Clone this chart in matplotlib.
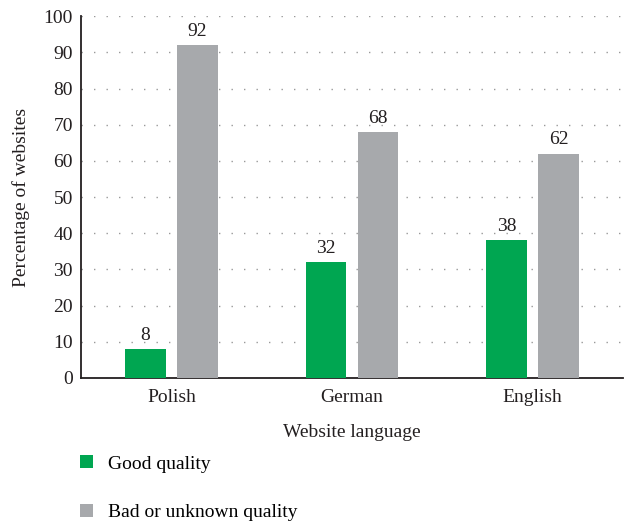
import numpy as np
import matplotlib.pyplot as plt

# data
languages = ["Polish", "German", "English"]
good = [8, 32, 38]
bad = [92, 68, 62]

green = "#00a651"
grey = "#a7a9ac"

plt.rcParams['font.family'] = ['Liberation Serif', 'DejaVu Serif']

fig = plt.figure(figsize=(6.24, 5.22), dpi=100)
ax = fig.add_axes([0.130, 0.276, 0.868, 0.693])

x = np.arange(len(languages))
w = 0.226
off = 0.144
b1 = ax.bar(x - off, good, w, color=green, label="Good quality", zorder=3)
b2 = ax.bar(x + off, bad, w, color=grey, label="Bad or unknown quality", zorder=3)

for bars, vals in ((b1, good), (b2, bad)):
    for r, v in zip(bars, vals):
        ax.text(r.get_x() + r.get_width() / 2, v + 1.5, str(v),
                ha="center", va="bottom", fontsize=14, color="#231f20")

ax.set_xlim(-0.5, 2.5)
ax.set_ylim(0, 100)
ax.set_yticks(range(0, 101, 10))
ax.set_xticks(x)
ax.set_xticklabels(languages)
ax.tick_params(axis="both", labelsize=14, colors="#231f20", length=0)
ax.tick_params(axis="x", pad=8)
ax.tick_params(axis="y", pad=6)
ax.yaxis.grid(True, linestyle=(0, (1, 8)), color="#999999", linewidth=1)
ax.set_axisbelow(True)
for s in ("top", "right"):
    ax.spines[s].set_visible(False)
ax.spines["left"].set_color("#231f20")
ax.spines["bottom"].set_color("#231f20")
ax.spines["left"].set_linewidth(1.3)
ax.spines["bottom"].set_linewidth(1.3)

ax.set_xlabel("Website language", fontsize=14, color="#231f20", labelpad=13)
ax.set_ylabel("Percentage of websites", fontsize=14, color="#231f20", labelpad=10)

fig.legend(handles=[b1, b2], loc="upper left", bbox_to_anchor=(0.128, 0.128),
           frameon=False, fontsize=14, handlelength=0.65, handleheight=0.65,
           handletextpad=0.8, labelspacing=1.6, borderaxespad=0, borderpad=0)

fig.savefig("out.png", dpi=100)
